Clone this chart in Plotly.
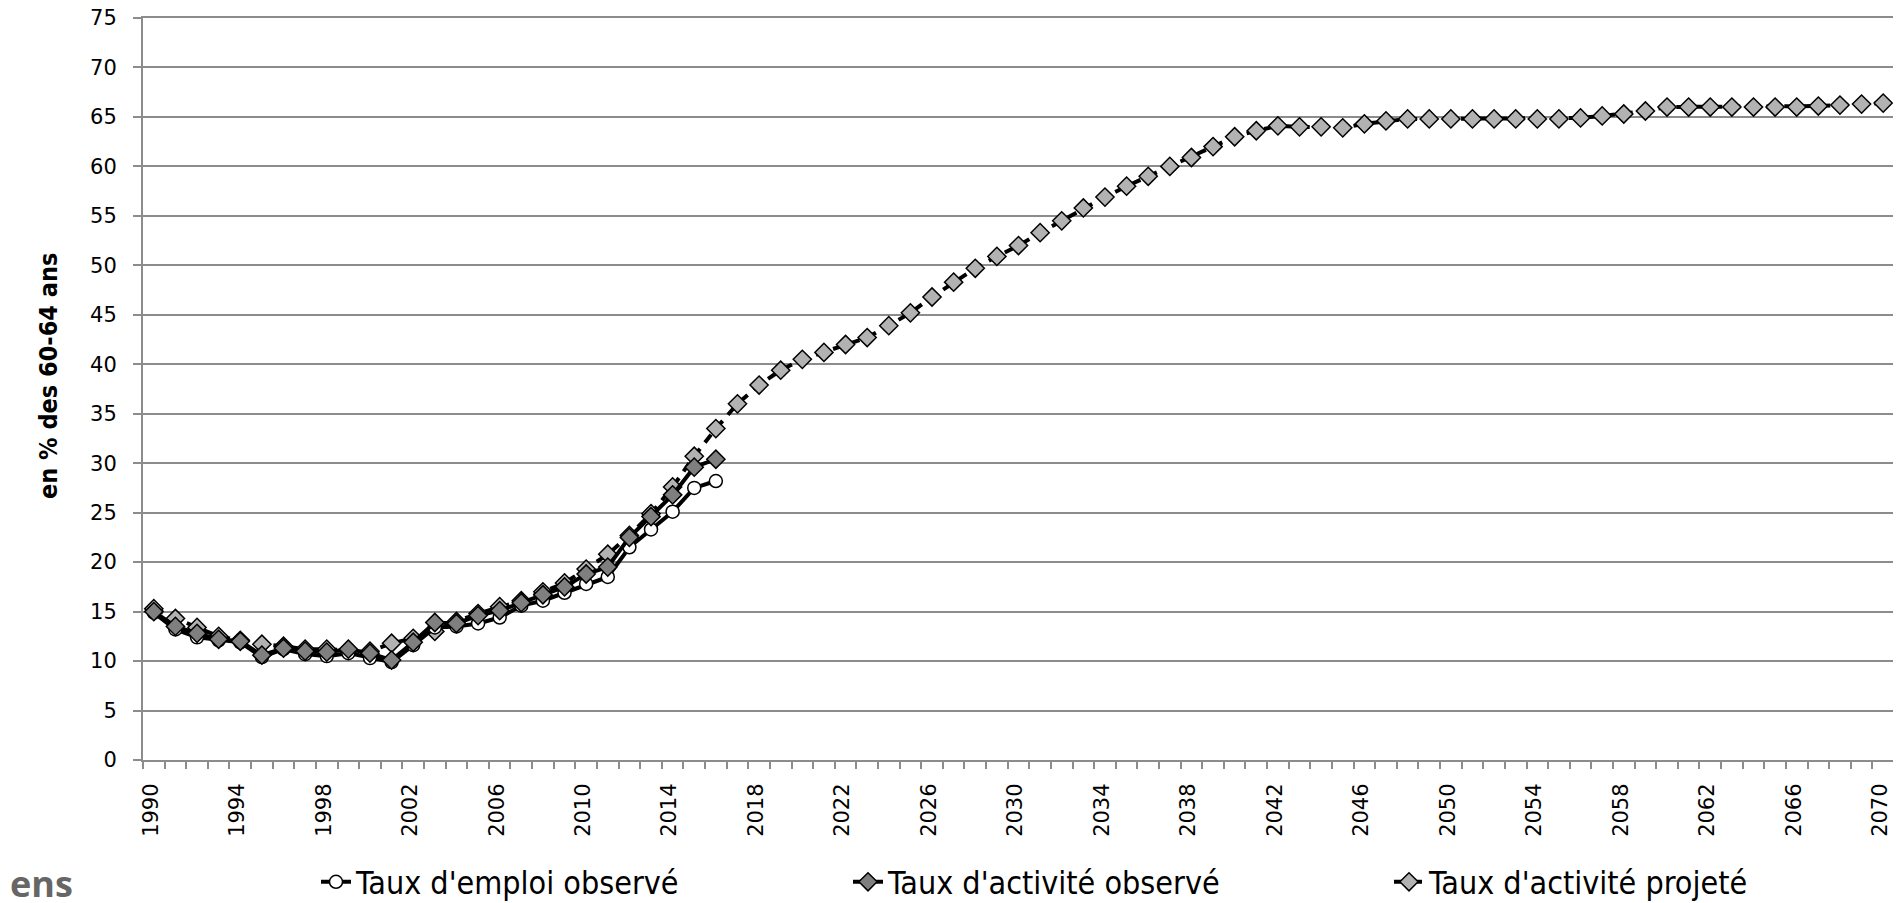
import plotly.graph_objects as go

# Years (categories)
years_obs = list(range(1990, 2017))
years_proj = list(range(1990, 2071))

# Taux d'emploi observé (60-64 ans)
emploi_obs = [14.9, 13.2, 12.4, 12.1, 11.9, 10.4, 11.2, 10.7, 10.5, 10.8,
              10.3, 9.9, 11.6, 13.4, 13.5, 13.8, 14.4, 15.6, 16.1, 16.9,
              17.8, 18.5, 21.5, 23.3, 25.1, 27.5, 28.2]

# Taux d'activité observé
activite_obs = [15.0, 13.5, 12.8, 12.2, 12.0, 10.6, 11.3, 11.0, 10.9, 11.2,
                10.8, 10.1, 11.9, 13.9, 13.8, 14.6, 15.1, 15.9, 16.7, 17.5,
                18.8, 19.5, 22.5, 24.6, 26.8, 29.6, 30.4]

# Taux d'activité projeté
activite_proj = [15.3, 14.3, 13.4, 12.5, 12.1, 11.7, 11.5, 11.2, 11.2, 11.1,
                 11.0, 11.8, 12.3, 13.0, 14.0, 14.8, 15.5, 16.1, 17.0, 17.9,
                 19.3, 20.8, 22.7, 24.9, 27.6, 30.7, 33.5, 36.0, 37.9, 39.4,
                 40.5, 41.2, 42.0, 42.7, 43.9, 45.2, 46.8, 48.3, 49.7, 50.9,
                 52.0, 53.3, 54.5, 55.8, 56.9, 58.0, 59.0, 60.0, 60.9, 62.0,
                 63.0, 63.6, 64.1, 64.0, 64.0, 63.9, 64.3, 64.6, 64.8, 64.8,
                 64.8, 64.8, 64.8, 64.8, 64.8, 64.8, 64.9, 65.1, 65.3, 65.6,
                 66.0, 66.0, 66.0, 66.0, 66.0, 66.0, 66.0, 66.1, 66.2, 66.3,
                 66.4]

x_ticks = list(range(1990, 2071, 4))
y_ticks = list(range(0, 76, 5))

narrow = "DejaVu Sans Condensed, Liberation Sans Narrow, sans-serif"
legend_font = dict(family=narrow, size=32, color="black")

# figure sits 8px inside the page (body margin)
W, H = 1893, 895
L, R, T, B = 135, 7, 10, 143
PW = W - L - R
PH = H - T - B

fig = go.Figure()

fig.add_trace(go.Scatter(
    x=years_proj, y=activite_proj, mode="lines+markers",
    name="Taux d'activité projeté",
    line=dict(color="black", width=4, dash="10px,8px"),
    marker=dict(symbol="diamond", size=14, color="#b2b2b2",
                line=dict(color="black", width=1.5)),
    legend="legend3", showlegend=True,
))

fig.add_trace(go.Scatter(
    x=years_obs, y=emploi_obs, mode="lines+markers",
    name="Taux d'emploi observé",
    line=dict(color="black", width=4),
    marker=dict(symbol="circle", size=13, color="white",
                line=dict(color="black", width=1.5)),
    legend="legend", showlegend=True,
))

fig.add_trace(go.Scatter(
    x=years_obs, y=activite_obs, mode="lines+markers",
    name="Taux d'activité observé",
    line=dict(color="black", width=4),
    marker=dict(symbol="diamond", size=14, color="#7f7f7f",
                line=dict(color="black", width=1.5)),
    legend="legend2", showlegend=True,
))

leg = dict(orientation="h", xref="container", yref="container",
           yanchor="middle", y=1 - 874 / H, xanchor="left",
           font=legend_font, bgcolor="rgba(0,0,0,0)", itemwidth=30,
           visible=True)

fig.update_layout(
    width=W, height=H,
    margin=dict(l=L, r=R, t=T, b=B, pad=0),
    showlegend=True,
    plot_bgcolor="white", paper_bgcolor="white",
    font=dict(family="DejaVu Sans, Verdana, sans-serif", size=21, color="black"),
    legend=dict(leg, x=308 / W),
    legend2=dict(leg, x=840 / W),
    legend3=dict(leg, x=1381 / W),
    xaxis=dict(
        range=[1989.5, 2070.5], automargin=False,
        tickmode="array", tickvals=x_ticks, ticktext=[str(v) for v in x_ticks],
        tickangle=-90, ticks="outside", ticklen=7, tickcolor="rgba(0,0,0,0)",
        ticklabelstandoff=6, ticklabelshift=-3, ticklabeloverflow="allow",
        showgrid=False, zeroline=False,
        showline=True, mirror=True, linecolor="#8c8c8c", linewidth=2,
        tickfont=dict(size=21),
        minor=dict(tickmode="array", tickvals=[y - 0.5 for y in years_proj] + [2070.5],
                   ticks="outside", ticklen=7, tickcolor="#8c8c8c", tickwidth=1.5,
                   showgrid=False),
    ),
    yaxis=dict(
        range=[0, 75], automargin=False, tickmode="array", tickvals=y_ticks,
        ticks="outside", ticklen=8, tickcolor="#8c8c8c", tickwidth=1.5,
        ticklabelstandoff=12, ticklabeloverflow="allow",
        showgrid=True, gridcolor="#8c8c8c", gridwidth=2,
        zeroline=False, showline=True, linecolor="#8c8c8c", linewidth=2,
        tickfont=dict(size=21),
    ),
    annotations=[
        dict(text="<b>en % des 60-64 ans</b>", xref="paper", yref="paper",
             x=(40 - L) / PW, y=(T + PH - 368) / PH, textangle=-90,
             xanchor="center", yanchor="middle", showarrow=False,
             font=dict(family=narrow, size=25, color="black")),
        dict(text="<b>ens</b>", xref="paper", yref="paper",
             x=-L / PW, y=(T + PH - 875) / PH, xanchor="left", yanchor="middle",
             showarrow=False,
             font=dict(family="Open Sans, sans-serif", size=36, color="#666666")),
    ],
)

fig.write_html("out.html")
